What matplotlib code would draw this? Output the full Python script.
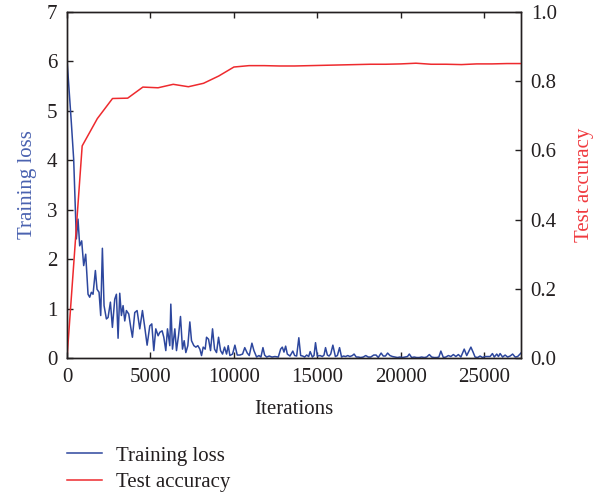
import matplotlib
matplotlib.use("Agg")
import matplotlib.pyplot as plt
from matplotlib.ticker import FixedLocator, FormatStrFormatter

plt.rcParams['font.family'] = ['Liberation Serif', 'DejaVu Serif']

loss_iter = [0, 260, 400, 560, 660, 760, 880, 1000, 1120, 1260, 1360, 1460, 1560, 1700, 1800,
             1920, 2020, 2120, 2220, 2360, 2460, 2600, 2720, 2860, 2960, 3060, 3160, 3260, 3360,
             3460, 3560, 3700, 3820, 3920, 4060, 4200, 4360, 4520, 4660, 4800, 4960, 5080, 5200,
             5320, 5460, 5560, 5700, 5800, 5920, 6020, 6160, 6220, 6320, 6460, 6560, 6680, 6800,
             6920, 7020, 7120, 7240, 7360, 7460, 7600, 7720, 7840, 7960, 8060, 8160, 8280, 8360,
             8480, 8600, 8720, 8840, 8960, 9080, 9200, 9320, 9440, 9560, 9660, 9760, 9920,
             10060, 10200, 10360, 10520, 10650, 10800, 10920, 11080, 11200, 11360, 11500, 11620,
             11740, 11840, 11960, 12120, 12280, 12460, 12660, 12800, 12900, 13000, 13100, 13200,
             13360, 13530, 13640, 13760, 13890, 14000, 14120, 14240, 14360, 14480, 14570, 14700,
             14800, 14890, 15000, 15160, 15300, 15400, 15490, 15600, 15700, 15800, 15930, 16080,
             16200, 16330, 16450, 16560, 16700, 16820, 16950, 17100, 17200, 17330, 17450, 17600,
             17750, 17900, 18050, 18200, 18380, 18520, 18650, 18820, 18950, 19080, 19210, 19350,
             19500, 19650, 19800, 19950, 20100, 20250, 20400, 20510, 20650, 20800, 20950, 21100,
             21250, 21400, 21550, 21710, 21850, 22000, 22150, 22280, 22400, 22550, 22700, 22850,
             23000, 23150, 23300, 23450, 23600, 23800, 23950, 24200, 24330, 24450, 24600, 24750,
             24900, 25050, 25200, 25350, 25490, 25600, 25750, 25850, 25950, 26100, 26250, 26400,
             26550, 26700, 26850, 27000, 27200]
loss_vals = [6.04, 4.76, 4.02, 2.41, 2.81, 2.27, 2.37, 1.87, 2.10, 1.29, 1.23, 1.33, 1.29, 1.77, 1.39,
             1.33, 0.86, 2.22, 1.06, 0.79, 0.82, 1.13, 0.62, 1.19, 1.29, 0.40, 1.31, 0.86, 1.06,
             0.75, 0.96, 0.89, 0.62, 0.42, 0.92, 0.96, 0.59, 0.96, 0.62, 0.26, 0.65, 0.69, 0.15,
             0.59, 0.45, 0.52, 0.55, 0.42, 0.15, 0.59, 0.25, 1.09, 0.18, 0.59, 0.15, 0.45, 0.84,
             0.18, 0.35, 0.11, 0.25, 0.73, 0.35, 0.25, 0.22, 0.25, 0.18, 0.05, 0.22, 0.18, 0.42,
             0.38, 0.15, 0.59, 0.18, 0.11, 0.42, 0.15, 0.08, 0.22, 0.08, 0.25, 0.05, 0.08,
             0.26, 0.06, 0.06, 0.08, 0.21, 0.10, 0.05, 0.30, 0.15, 0.02, 0.05, 0.02,
             0.21, 0.06, 0.02, 0.04, 0.02, 0.03, 0.02, 0.18, 0.22, 0.12, 0.24, 0.08,
             0.04, 0.14, 0.05, 0.04, 0.41, 0.05, 0.04, 0.02, 0.06, 0.03, 0.13, 0.02,
             0.05, 0.31, 0.04, 0.05, 0.03, 0.06, 0.21, 0.06, 0.04, 0.08, 0.26, 0.03,
             0.05, 0.21, 0.02, 0.04, 0.03, 0.05, 0.03, 0.05, 0.08, 0.02, 0.02, 0.01,
             0.02, 0.05, 0.02, 0.02, 0.06, 0.06, 0.01, 0.10, 0.04, 0.04, 0.10, 0.05,
             0.03, 0.02, 0.01, 0.02, 0.01, 0.02, 0.03, 0.08, 0.01, 0.02, 0.01, 0.01,
             0.02, 0.01, 0.02, 0.07, 0.02, 0.01, 0.01, 0.02, 0.14, 0.01, 0.02, 0.05,
             0.03, 0.07, 0.03, 0.07, 0.02, 0.18, 0.05, 0.22, 0.12, 0.02, 0.01, 0.04,
             0.01, 0.03, 0.03, 0.03, 0.09, 0.02, 0.08, 0.03, 0.09, 0.02, 0.06, 0.02,
             0.04, 0.08, 0.02, 0.03, 0.10]

acc_iter = [0, 909, 1818, 2727, 3636, 4545, 5455, 6364, 7273, 8182, 9091, 10000, 10909, 11818,
            12727, 13636, 14545, 15455, 16364, 17273, 18182, 19091, 20000, 20909, 21818, 22727,
            23636, 24545, 25455, 26364, 27273]
acc_vals = [0.0, 0.613, 0.692, 0.750, 0.751, 0.783, 0.781, 0.791, 0.784, 0.794, 0.815, 0.841,
            0.845, 0.845, 0.844, 0.844, 0.845, 0.846, 0.847, 0.848, 0.849, 0.849, 0.850, 0.852,
            0.849, 0.849, 0.848, 0.850, 0.850, 0.851, 0.851]

x_ticks = [0, 5000, 10000, 15000, 20000, 25000]
loss_ticks = [0, 1, 2, 3, 4, 5, 6, 7]
acc_ticks = [0.0, 0.2, 0.4, 0.6, 0.8, 1.0]

BLUE = '#2d479e'
RED = '#ee2a2e'
BLUE_TXT = '#4a62b0'
RED_TXT = '#f03a3f'
DARK = '#231f20'
FS = 15

fig = plt.figure(figsize=(6.02, 4.96), dpi=100)
ax = fig.add_axes([0.1113, 0.2782, 0.7541, 0.6976])
ax2 = ax.twinx()

l1, = ax.plot(loss_iter, loss_vals, color=BLUE, lw=1.1, label='Training loss')
l2, = ax2.plot(acc_iter, acc_vals, color=RED, lw=1.1, label='Test accuracy')

ax.set_xlim(0, 27200)
ax.set_ylim(0, 7)
ax2.set_ylim(0, 1)
ax.xaxis.set_major_locator(FixedLocator(x_ticks))
ax.yaxis.set_major_locator(FixedLocator(loss_ticks))
ax2.yaxis.set_major_locator(FixedLocator(acc_ticks))
ax2.yaxis.set_major_formatter(FormatStrFormatter('%.1f'))

for a in (ax, ax2):
    for s in a.spines.values():
        s.set_color(DARK)
        s.set_linewidth(1.0)
ax.tick_params(axis='both', direction='in', length=4, width=1, colors=DARK,
               labelsize=FS, labelcolor=DARK, top=True)
ax.tick_params(axis='y', pad=7)
ax.tick_params(axis='x', pad=7.5)
ax2.tick_params(axis='y', direction='in', length=4, width=1, colors=DARK,
                labelsize=FS, labelcolor=DARK, pad=7)

ax.set_xlabel('Iterations', fontsize=FS, color=DARK, labelpad=9)
ax.set_ylabel('Training loss', fontsize=FS, color=BLUE_TXT, labelpad=7)
ax2.set_ylabel('Test accuracy', fontsize=FS, color=RED_TXT, labelpad=13)

fig.legend(handles=[l1, l2], loc='upper left', bbox_to_anchor=(67 / 602, 1 - 446 / 496),
           frameon=False, fontsize=FS, handlelength=1.7, handletextpad=0.65,
           labelspacing=0.32, borderpad=0, borderaxespad=0, labelcolor=DARK)

fig.savefig('out.png', dpi=100)
